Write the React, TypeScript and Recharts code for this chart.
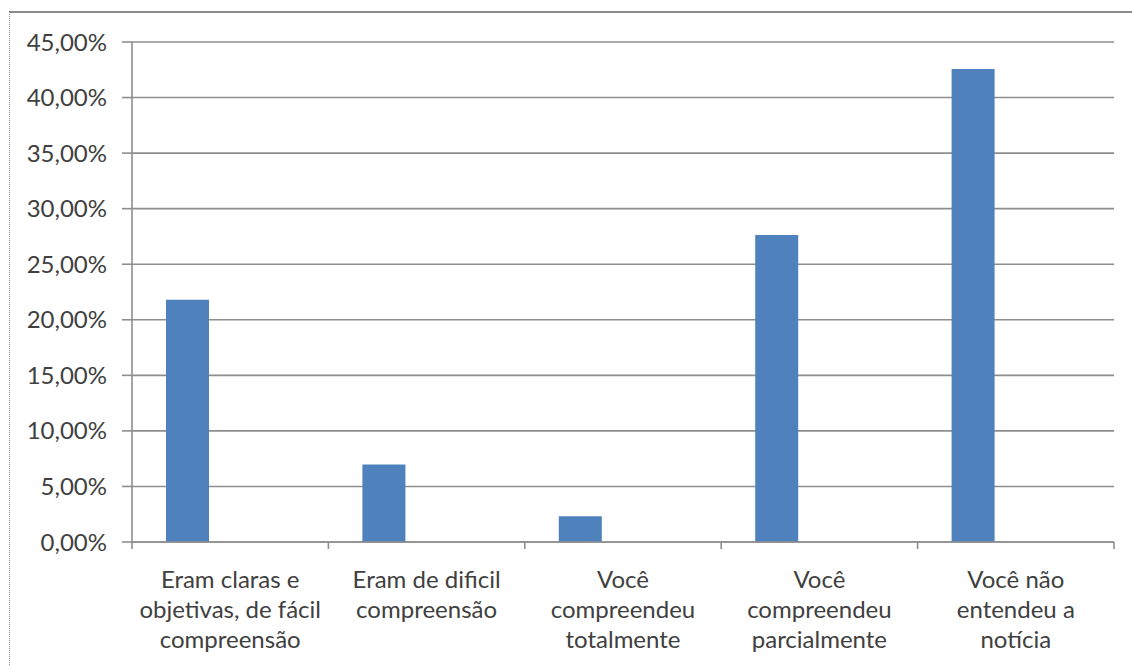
import React from 'react'
import { BarChart, Bar, XAxis, YAxis, CartesianGrid } from 'recharts'

// Respostas sobre a compreensão da notícia (percentual de entrevistados)
const categorias = [
  'Eram claras e objetivas, de fácil compreensão',
  'Eram de dificil compreensão',
  'Você compreendeu totalmente',
  'Você compreendeu parcialmente',
  'Você não entendeu a notícia',
]
// quebras de linha dos rótulos do eixo X
const rotulos = [
  ['Eram claras e', 'objetivas, de fácil', 'compreensão'],
  ['Eram de dificil', 'compreensão'],
  ['Você', 'compreendeu', 'totalmente'],
  ['Você', 'compreendeu', 'parcialmente'],
  ['Você não', 'entendeu a', 'notícia'],
]
const percentuais = [21.8, 6.98, 2.32, 27.64, 42.57]
const ticksY = [0, 5, 10, 15, 20, 25, 30, 35, 40, 45]

const dados = categorias.map((nome, i) => ({ nome, valor: percentuais[i] }))

const FONTE = 'Lato, "Open Sans", sans-serif'
const COR_TEXTO = '#404040'
const COR_LINHA = '#8e8e8e'
const AZUL = '#4F81BD'

const formatarPct = (v: number) => v.toFixed(2).replace('.', ',') + '%'

// Rótulo de categoria em várias linhas, com as marcas nos limites de cada categoria
const TickCategoria = (props: any) => {
  const { x, y, index, width } = props
  const linhas = rotulos[index] || []
  const faixa = width / rotulos.length
  return (
    <g>
      <line x1={x - faixa / 2} x2={x - faixa / 2} y1={y} y2={y + 7} stroke={COR_LINHA} strokeWidth={1.6} />
      {index === rotulos.length - 1 && (
        <line x1={x + faixa / 2} x2={x + faixa / 2} y1={y} y2={y + 7} stroke={COR_LINHA} strokeWidth={1.6} />
      )}
      <text x={x} y={y} textAnchor="middle" fill={COR_TEXTO} fontSize={24} fontFamily={FONTE}>
        {linhas.map((l: string, i: number) => (
          <tspan key={i} x={x} dy={i === 0 ? 46 : 30}>
            {l}
          </tspan>
        ))}
      </text>
    </g>
  )
}

export default function App() {
  return (
    <div style={{ position: 'absolute', left: 0, top: 0, width: 1132, height: 666, overflow: 'hidden', background: '#fff' }}>
      <style>{'body{margin:0;overflow:hidden}'}</style>
      {/* moldura do gráfico */}
      <div
        style={{
          position: 'absolute',
          left: 9,
          top: 11,
          width: 1200,
          height: 700,
          borderTop: '2px solid #8a8a8a',
          borderLeft: '1px dotted #8a8a8a',
        }}
      />
      <div style={{ position: 'absolute', left: 0, top: 0 }}>
        <BarChart
          width={1132}
          height={666}
          data={dados}
          margin={{ top: 42, right: 18, left: 0, bottom: 0 }}
          barCategoryGap={34}
          barGap={0}
        >
          <CartesianGrid vertical={false} stroke={COR_LINHA} strokeWidth={1.6} />
          <XAxis
            dataKey="nome"
            height={124}
            interval={0}
            tickLine={false}
            tickSize={0}
            tickMargin={0}
            axisLine={{ stroke: COR_LINHA, strokeWidth: 1.6 }}
            tick={<TickCategoria />}
          />
          <YAxis
            width={132}
            domain={[0, 45]}
            ticks={ticksY}
            interval={0}
            tickFormatter={formatarPct}
            tickSize={10}
            tickMargin={15}
            axisLine={{ stroke: COR_LINHA, strokeWidth: 1.6 }}
            tickLine={{ stroke: COR_LINHA, strokeWidth: 1.6 }}
            tick={{ fill: COR_TEXTO, fontSize: 24, fontFamily: FONTE }}
          />
          <Bar dataKey="valor" fill={AZUL} isAnimationActive={false} />
          {/* séries vazias que reservam espaço ao lado da barra, como no gráfico agrupado */}
          <Bar dataKey="serie2" fill={AZUL} isAnimationActive={false} />
          <Bar dataKey="serie3" fill={AZUL} isAnimationActive={false} />
        </BarChart>
      </div>
    </div>
  )
}
